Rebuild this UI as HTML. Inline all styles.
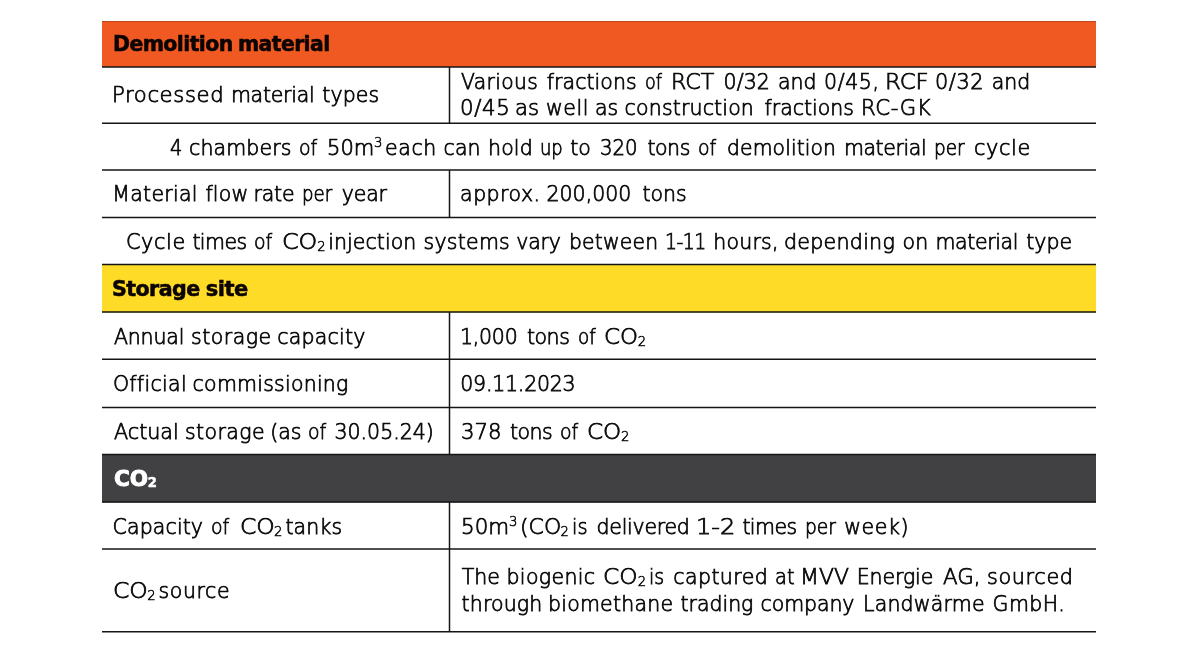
<!DOCTYPE html>
<html lang="en">
<head>
<meta charset="utf-8">
<title>Demolition material, storage site and CO2 key figures</title>
<style>
html,body{margin:0;padding:0;background:#fff;}
body{width:1200px;height:647px;position:relative;overflow:hidden;font-family:"DejaVu Sans","Liberation Sans",sans-serif;}
.tbl{position:absolute;left:0;top:0;width:1200px;height:647px;}
.grid{position:absolute;left:0;top:0;}
.ln{position:absolute;left:0;top:0;margin:0;white-space:nowrap;}
.t{position:absolute;white-space:nowrap;line-height:30px;height:30px;}
.b{font-family:"DejaVu Sans Light","DejaVu Sans","Liberation Sans",sans-serif;font-weight:200;font-size:20.5px;color:#0a0a0a;-webkit-text-stroke:0.75px #0a0a0a;}
.h{font-family:"DejaVu Sans","Liberation Sans",sans-serif;font-weight:bold;font-size:21px;color:#0b0403;-webkit-text-stroke:0.55px #0b0403;}
.w{color:#fff;-webkit-text-stroke:0.9px #fff;}
sub,sup{font-size:13.2px;line-height:0;}
sub{vertical-align:-1.5px;}
sup{vertical-align:8.3px;}
.b sub,.b sup{-webkit-text-stroke:0.55px #0a0a0a;}
.h sub{font-size:13.2px;vertical-align:-1px;-webkit-text-stroke:0.5px #fff;}
.t{transform-origin:0 0;}
</style>
</head>
<body>
<div class="tbl" role="table">
<svg class="grid" width="1200" height="647" viewBox="0 0 1200 647"><rect x="102" y="21" width="994" height="46" fill="#f05a22"/><rect x="102" y="264.2" width="994" height="48.2" fill="#fddb27"/><rect x="102" y="454" width="994" height="48.4" fill="#414042"/><line x1="102" x2="1096" y1="21.5" y2="21.5" stroke="#000" stroke-opacity="0.22" stroke-width="1"/><line x1="102" x2="1096" y1="67" y2="67" stroke="#151515" stroke-width="1.5"/><line x1="102" x2="1096" y1="123.2" y2="123.2" stroke="#151515" stroke-width="1.5"/><line x1="102" x2="1096" y1="170.1" y2="170.1" stroke="#151515" stroke-width="1.5"/><line x1="102" x2="1096" y1="217.6" y2="217.6" stroke="#151515" stroke-width="1.5"/><line x1="102" x2="1096" y1="264.6" y2="264.6" stroke="#151515" stroke-width="1.5"/><line x1="102" x2="1096" y1="312.1" y2="312.1" stroke="#151515" stroke-width="1.5"/><line x1="102" x2="1096" y1="359.3" y2="359.3" stroke="#151515" stroke-width="1.5"/><line x1="102" x2="1096" y1="407.4" y2="407.4" stroke="#151515" stroke-width="1.5"/><line x1="102" x2="1096" y1="454.6" y2="454.6" stroke="#151515" stroke-width="1.5"/><line x1="102" x2="1096" y1="501.9" y2="501.9" stroke="#151515" stroke-width="1.5"/><line x1="102" x2="1096" y1="549" y2="549" stroke="#151515" stroke-width="1.5"/><line x1="102" x2="1096" y1="631.8" y2="631.8" stroke="#151515" stroke-width="1.5"/><line x1="449.5" x2="449.5" y1="67" y2="123.2" stroke="#151515" stroke-width="1.5"/><line x1="449.5" x2="449.5" y1="170.1" y2="217.6" stroke="#151515" stroke-width="1.5"/><line x1="449.5" x2="449.5" y1="312.1" y2="454.6" stroke="#151515" stroke-width="1.5"/><line x1="449.5" x2="449.5" y1="501.9" y2="631.8" stroke="#151515" stroke-width="1.5"/></svg>
<div class="row head orange" role="row"><div class="cell" role="cell"><p class="ln h"><span class="t" style="left:113.07px;top:29.2px;letter-spacing:-0.6px;transform:scaleX(0.973)">Demolition</span> <span class="t" style="left:238.45px;top:29.2px;letter-spacing:-0.6px;transform:scaleX(0.969)">material</span></p></div></div>
<div class="row" role="row"><div class="cell" role="cell"><p class="ln b"><span class="t" style="left:112.38px;top:80px;letter-spacing:0.6px;transform:scaleX(1.031)">Processed</span> <span class="t" style="left:230.88px;top:80px;letter-spacing:-0.25px">material</span> <span class="t" style="left:322.25px;top:80px;letter-spacing:0.12px">types</span></p></div>
<div class="cell" role="cell"><p class="ln b"><span class="t" style="left:461.38px;top:66.85px;letter-spacing:0.38px;transform:scaleX(0.99)">Various</span> <span class="t" style="left:546.75px;top:66.85px;letter-spacing:0.06px">fractions</span> <span class="t" style="left:644.88px;top:66.85px;transform:scaleX(0.855)">of</span> <span class="t" style="left:671.25px;top:66.85px;transform:scaleX(1.079)">RCT</span> <span class="t" style="left:723.62px;top:66.85px;letter-spacing:0.08px">0/32</span> <span class="t" style="left:778px;top:66.85px">and</span> <span class="t" style="left:824px;top:66.85px;letter-spacing:0.6px">0/45,</span> <span class="t" style="left:884.7px;top:66.85px;transform:scaleX(1.111)">RCF</span> <span class="t" style="left:935.12px;top:66.85px;letter-spacing:0.58px;transform:scaleX(1.017)">0/32</span> <span class="t" style="left:991.75px;top:66.85px">and</span></p><p class="ln b"><span class="t" style="left:460.12px;top:93.35px;letter-spacing:0.6px;transform:scaleX(1.039)">0/45</span> <span class="t" style="left:515.12px;top:93.35px;transform:scaleX(1.036)">as</span> <span class="t" style="left:546px;top:93.35px;letter-spacing:0.6px">well</span> <span class="t" style="left:594.88px;top:93.35px">as</span> <span class="t" style="left:624.62px;top:93.35px;letter-spacing:0.16px">construction</span> <span class="t" style="left:764.5px;top:93.35px">fractions</span> <span class="t" style="left:861.12px;top:93.35px;letter-spacing:0.6px;transform:scaleX(1.034)">RC-GK</span></p></div></div>
<div class="row full" role="row"><div class="cell" role="cell"><p class="ln b"><span class="t" style="left:170.12px;top:132.6px;transform:scaleX(0.938)">4</span> <span class="t" style="left:189px;top:132.6px;letter-spacing:0.14px">chambers</span> <span class="t" style="left:298.75px;top:132.6px;transform:scaleX(0.921)">of</span> <span class="t" style="left:327.12px;top:132.6px;transform:scaleX(1.028)">50m</span><span class="t" style="left:373.9px;top:132.6px"><sup>3</sup></span> <span class="t" style="left:385.12px;top:132.6px;letter-spacing:0.58px">each</span> <span class="t" style="left:443.62px;top:132.6px">can</span> <span class="t" style="left:488px;top:132.6px;letter-spacing:0.17px">hold</span> <span class="t" style="left:539.75px;top:132.6px;transform:scaleX(0.875)">up</span> <span class="t" style="left:570.25px;top:132.6px">to</span> <span class="t" style="left:600px;top:132.6px;transform:scaleX(0.959)">320</span> <span class="t" style="left:647.38px;top:132.6px;letter-spacing:-0.42px">tons</span> <span class="t" style="left:697.5px;top:132.6px;transform:scaleX(0.921)">of</span> <span class="t" style="left:726.55px;top:132.6px;letter-spacing:0.12px;transform:scaleX(0.992)">demolition</span> <span class="t" style="left:843.9px;top:132.6px;letter-spacing:-0.4px">material</span> <span class="t" style="left:933.55px;top:132.6px;transform:scaleX(0.9)">per</span> <span class="t" style="left:973.5px;top:132.6px;letter-spacing:0.6px;transform:scaleX(1.015)">cycle</span></p></div></div>
<div class="row" role="row"><div class="cell" role="cell"><p class="ln b"><span class="t" style="left:112.25px;top:179.1px;letter-spacing:0.29px">Material</span> <span class="t" style="left:205.45px;top:179.1px;letter-spacing:0.17px">flow</span> <span class="t" style="left:253.62px;top:179.1px;letter-spacing:-0.25px">rate</span> <span class="t" style="left:302.38px;top:179.1px;transform:scaleX(0.886)">per</span> <span class="t" style="left:341.75px;top:179.1px;letter-spacing:-0.17px">year</span></p></div>
<div class="cell" role="cell"><p class="ln b"><span class="t" style="left:460.12px;top:179.1px;letter-spacing:0.46px">approx.</span> <span class="t" style="left:546.5px;top:179.1px">200,000</span> <span class="t" style="left:642.5px;top:179.1px">tons</span></p></div></div>
<div class="row full" role="row"><div class="cell" role="cell"><p class="ln b"><span class="t" style="left:125.88px;top:227.1px;letter-spacing:0.6px;transform:scaleX(1.013)">Cycle</span> <span class="t" style="left:192.38px;top:227.1px;letter-spacing:-0.56px">times</span> <span class="t" style="left:253.75px;top:227.1px;transform:scaleX(0.921)">of</span> <span class="t" style="left:281.75px;top:227.1px;transform:scaleX(1.161)">CO</span><span class="t" style="left:317.2px;top:227.1px"><sub>2</sub></span> <span class="t" style="left:328.25px;top:227.1px;letter-spacing:0.06px">injection</span> <span class="t" style="left:423.5px;top:227.1px;letter-spacing:0.25px">systems</span> <span class="t" style="left:516.25px;top:227.1px;letter-spacing:-0.17px">vary</span> <span class="t" style="left:568.62px;top:227.1px;letter-spacing:0.21px;transform:scaleX(0.991)">between</span> <span class="t" style="left:664.9px;top:227.1px;letter-spacing:-0.6px;transform:scaleX(0.922)">1-11</span> <span class="t" style="left:713.25px;top:227.1px;letter-spacing:0.22px">hours,</span> <span class="t" style="left:783.88px;top:227.1px;letter-spacing:0.22px;transform:scaleX(1.007)">depending</span> <span class="t" style="left:902.6px;top:227.1px">on</span> <span class="t" style="left:935.5px;top:227.1px;letter-spacing:-0.37px">material</span> <span class="t" style="left:1026.3px;top:227.1px">type</span></p></div></div>
<div class="row head yellow" role="row"><div class="cell" role="cell"><p class="ln h"><span class="t" style="left:112.3px;top:274.1px;letter-spacing:-0.6px;transform:scaleX(0.982)">Storage</span> <span class="t" style="left:205.7px;top:274.1px;letter-spacing:-0.47px">site</span></p></div></div>
<div class="row" role="row"><div class="cell" role="cell"><p class="ln b"><span class="t" style="left:113.88px;top:322.35px;letter-spacing:-0.15px">Annual</span> <span class="t" style="left:191px;top:322.35px;letter-spacing:0.5px">storage</span> <span class="t" style="left:277.25px;top:322.35px;letter-spacing:0.21px">capacity</span></p></div>
<div class="cell" role="cell"><p class="ln b"><span class="t" style="left:460px;top:322.35px;letter-spacing:-0.25px">1,000</span> <span class="t" style="left:526.88px;top:322.35px;letter-spacing:-0.42px">tons</span> <span class="t" style="left:577.75px;top:322.35px;transform:scaleX(0.895)">of</span> <span class="t" style="left:603.62px;top:322.35px;transform:scaleX(1.116)">CO</span><span class="t" style="left:637.7px;top:322.35px"><sub>2</sub></span></p></div></div>
<div class="row" role="row"><div class="cell" role="cell"><p class="ln b"><span class="t" style="left:112.88px;top:369.35px;letter-spacing:0.32px">Official</span> <span class="t" style="left:192.62px;top:369.35px;letter-spacing:0.23px">commissioning</span></p></div>
<div class="cell" role="cell"><p class="ln b"><span class="t" style="left:460.25px;top:369.35px;letter-spacing:-0.22px">09.11.2023</span></p></div></div>
<div class="row" role="row"><div class="cell" role="cell"><p class="ln b"><span class="t" style="left:114.12px;top:417.35px;letter-spacing:-0.05px;transform:scaleX(1.012)">Actual</span> <span class="t" style="left:185px;top:417.35px;letter-spacing:0.42px">storage</span> <span class="t" style="left:270.25px;top:417.35px">(as</span> <span class="t" style="left:307.5px;top:417.35px;transform:scaleX(0.921)">of</span> <span class="t" style="left:334.5px;top:417.35px">30.05.24)</span></p></div>
<div class="cell" role="cell"><p class="ln b"><span class="t" style="left:460.88px;top:417.35px;transform:scaleX(1.034)">378</span> <span class="t" style="left:510.12px;top:417.35px;letter-spacing:-0.58px">tons</span> <span class="t" style="left:560px;top:417.35px;transform:scaleX(0.921)">of</span> <span class="t" style="left:586.75px;top:417.35px;transform:scaleX(1.125)">CO</span><span class="t" style="left:620.95px;top:417.35px"><sub>2</sub></span></p></div></div>
<div class="row head dark" role="row"><div class="cell" role="cell"><p class="ln h w"><span class="t" style="left:113.68px;top:464.35px;transform:scaleX(1.026)">CO</span><span class="t" style="left:147.65px;top:464.35px"><sub>2</sub></span></p></div></div>
<div class="row" role="row"><div class="cell" role="cell"><p class="ln b"><span class="t" style="left:112.62px;top:511.85px;letter-spacing:0.11px">Capacity</span> <span class="t" style="left:211.25px;top:511.85px;transform:scaleX(0.921)">of</span> <span class="t" style="left:239.5px;top:511.85px;transform:scaleX(1.143)">CO</span><span class="t" style="left:273.95px;top:511.85px"><sub>2</sub></span> <span class="t" style="left:285.38px;top:511.85px;letter-spacing:0.19px">tanks</span></p></div>
<div class="cell" role="cell"><p class="ln b"><span class="t" style="left:461px;top:511.85px;transform:scaleX(1.045)">50m</span><span class="t" style="left:508.9px;top:511.85px"><sup>3</sup></span> <span class="t" style="left:519.5px;top:511.85px;transform:scaleX(1.071)">(CO</span><span class="t" style="left:560.45px;top:511.85px"><sub>2</sub></span> <span class="t" style="left:571.62px;top:511.85px;transform:scaleX(0.946)">is</span> <span class="t" style="left:596.5px;top:511.85px;letter-spacing:-0.25px">delivered</span> <span class="t" style="left:696.12px;top:511.85px;transform:scaleX(1.175)">1-2</span> <span class="t" style="left:742.38px;top:511.85px;letter-spacing:-0.56px">times</span> <span class="t" style="left:805.25px;top:511.85px;transform:scaleX(0.909)">per</span> <span class="t" style="left:844.25px;top:511.85px;letter-spacing:0.6px">week)</span></p></div></div>
<div class="row" role="row"><div class="cell" role="cell"><p class="ln b"><span class="t" style="left:112.75px;top:575.6px;transform:scaleX(1.143)">CO</span><span class="t" style="left:147.2px;top:575.6px"><sub>2</sub></span> <span class="t" style="left:158.5px;top:575.6px;letter-spacing:0.6px">source</span></p></div>
<div class="cell" role="cell"><p class="ln b"><span class="t" style="left:461.75px;top:562.1px">The</span> <span class="t" style="left:506.5px;top:562.1px;letter-spacing:0.36px">biogenic</span> <span class="t" style="left:603.38px;top:562.1px;transform:scaleX(1.134)">CO</span><span class="t" style="left:637.7px;top:562.1px"><sub>2</sub></span> <span class="t" style="left:649px;top:562.1px;transform:scaleX(0.929)">is</span> <span class="t" style="left:673.25px;top:562.1px;letter-spacing:0.43px">captured</span> <span class="t" style="left:774.75px;top:562.1px;transform:scaleX(0.947)">at</span> <span class="t" style="left:800px;top:562.1px;transform:scaleX(1.069)">MVV</span> <span class="t" style="left:856.75px;top:562.1px;letter-spacing:-0.12px">Energie</span> <span class="t" style="left:942.85px;top:562.1px;transform:scaleX(1.044)">AG,</span> <span class="t" style="left:986.65px;top:562.1px;letter-spacing:0.6px;transform:scaleX(1.016)">sourced</span></p><p class="ln b"><span class="t" style="left:461.62px;top:588.85px;letter-spacing:0.12px">through</span> <span class="t" style="left:548px;top:588.85px;letter-spacing:0.22px">biomethane</span> <span class="t" style="left:680.62px;top:588.85px;letter-spacing:-0.04px">trading</span> <span class="t" style="left:760.5px;top:588.85px;letter-spacing:-0.08px">company</span> <span class="t" style="left:863.05px;top:588.85px;letter-spacing:0.19px">Landw&auml;rme</span> <span class="t" style="left:992.62px;top:588.85px;letter-spacing:0.44px">GmbH.</span></p></div></div>
</div>
</body>
</html>
